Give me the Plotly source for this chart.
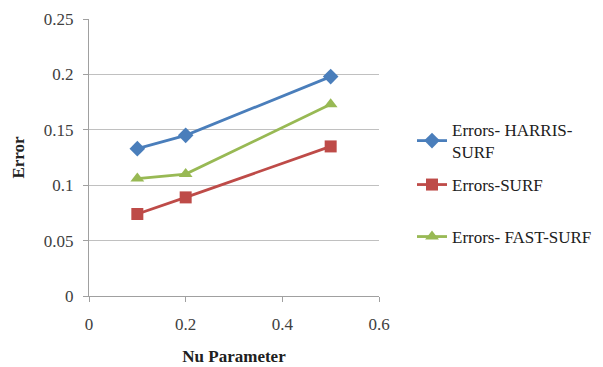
import plotly.graph_objects as go

nu = [0.1, 0.2, 0.5]
harris_surf = [0.133, 0.145, 0.198]
surf = [0.074, 0.089, 0.135]
fast_surf = [0.106, 0.110, 0.173]
names = ["Errors- HARRIS-<br>SURF", "Errors-SURF", "Errors- FAST-SURF"]
colors = ["#4a7ebb", "#be4b48", "#98b954"]
symbols = ["diamond", "square", "triangle-up"]
x_ticks = [0, 0.2, 0.4, 0.6]
y_ticks = [0, 0.05, 0.1, 0.15, 0.2, 0.25]

font = "Times New Roman, Liberation Serif, DejaVu Serif, serif"
legend_ids = ["legend", "legend2", "legend3"]
legend_y = [1 - 141 / 367, 1 - 185 / 367, 1 - 237 / 367]

fig = go.Figure()
for i, (ys, n, c, s) in enumerate(zip([harris_surf, surf, fast_surf], names, colors, symbols)):
    fig.add_trace(go.Scatter(x=nu, y=ys, name=n, mode="lines+markers", legend=legend_ids[i],
                             line=dict(color=c, width=2.8),
                             marker=dict(symbol=s, size=12, color=c)))

tf = dict(family=font, size=17, color="#404040")
leg = lambda yy: dict(x=412 / 603, y=yy, xref="container", yref="container",
                      xanchor="left", yanchor="middle",
                      font=dict(family=font, size=17, color="#202020"),
                      itemwidth=30, bgcolor="rgba(0,0,0,0)")
fig.update_layout(
    width=603, height=367,
    margin=dict(l=89, r=224, t=19, b=71),
    paper_bgcolor="white", plot_bgcolor="white",
    font=dict(family=font, size=17, color="#404040"),
    showlegend=True,
    legend=leg(legend_y[0]), legend2=leg(legend_y[1]), legend3=leg(legend_y[2]),
    xaxis=dict(range=[0, 0.6], tickvals=x_ticks, ticktext=["0", "0.2", "0.4", "0.6"],
               tickfont=tf, ticklabelstandoff=8, automargin=False,
               showgrid=False, zeroline=False, showline=True, linecolor="#a0a0a0",
               ticks="outside", ticklen=5, tickcolor="#a0a0a0",
               title=dict(text="<b>Nu Parameter</b>", font=dict(family=font, size=17, color="#202020"), standoff=16)),
    yaxis=dict(range=[0, 0.25], tickvals=y_ticks, ticktext=["0", "0.05", "0.1", "0.15", "0.2", "0.25"],
               tickfont=tf, ticklabelstandoff=6, automargin=False,
               showgrid=True, gridcolor="#c0c0c0", gridwidth=1, zeroline=False,
               showline=True, linecolor="#a0a0a0",
               ticks="outside", ticklen=5, tickcolor="#a0a0a0",
               title=dict(text="<b>Error</b>", font=dict(family=font, size=17, color="#202020"), standoff=14)),
)
fig.write_html("out.html")
